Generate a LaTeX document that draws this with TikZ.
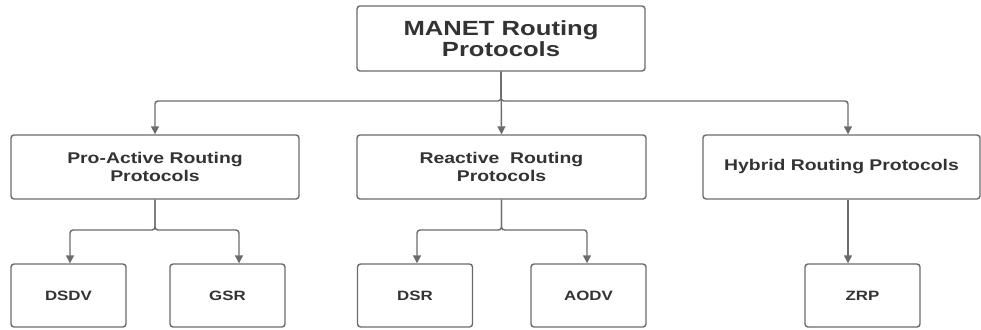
\documentclass[tikz,border=0pt]{standalone}
\usepackage{fontspec}
\setmainfont{Liberation Sans}[FakeStretch=1.25]
\usetikzlibrary{arrows.meta,calc}
\definecolor{linec}{HTML}{6B6B6B}
\definecolor{textc}{HTML}{333333}
\begin{document}
\begin{tikzpicture}[x=1pt,y=-1pt,
  box/.style={draw=linec,line width=1.4pt,rounded corners=3pt,fill=white,text=textc,align=center,inner sep=0pt,font=\bfseries},
  topbox/.style={box,minimum width=288pt,minimum height=65pt,font=\bfseries\fontsize{20.5}{21}\selectfont},
  midbox/.style={box,minimum height=64pt,font=\bfseries\fontsize{15.5}{18}\selectfont},
  leafbox/.style={box,minimum width=115pt,minimum height=63pt,font=\bfseries\fontsize{13.5}{16}\selectfont},
  conn/.style={draw=linec,line width=1.4pt,rounded corners=3pt,-{Triangle[width=8pt,length=8pt]}}]
\useasboundingbox (0,0) rectangle (981,329);
\node[topbox] (top) at (501,38.5) {MANET Routing\\Protocols};
\node[midbox,minimum width=288pt] (pro) at (155,167) {Pro-Active Routing\\Protocols};
\node[midbox,minimum width=289pt] (rea) at (501.5,167) {Reactive\ \ Routing\\Protocols};
\node[midbox,minimum width=277pt] (hyb) at (841.5,167) {Hybrid Routing Protocols};
\node[leafbox] (dsdv) at (68.5,295.5) {DSDV};
\node[leafbox] (gsr) at (227.5,295.5) {GSR};
\node[leafbox] (dsr) at (415,295.5) {DSR};
\node[leafbox] (aodv) at (588.5,295.5) {AODV};
\node[leafbox] (zrp) at (862.5,295.5) {ZRP};
\coordinate (bus) at (501,101);
\coordinate (hx) at (848,0);
\coordinate (gx) at (239,0);
\coordinate (dx) at (70,0);
\coordinate (rx) at (417,0);
\coordinate (ax) at (587,0);
\coordinate (split) at (0,230);
% top level
\draw[conn] (top.south) -- (bus) -| (pro.north);
\draw[conn] (top.south) -- (rea.north);
\draw[conn] (top.south) -- (bus) -| (hyb.north -| hx);
% pro-active
\draw[conn] (pro.south) -- (pro.south |- split) -| (dsdv.north -| dx);
\draw[conn] (pro.south) -- (pro.south |- split) -| (gsr.north -| gx);
% reactive
\draw[conn] (rea.south) -- (rea.south |- split) -| (dsr.north -| rx);
\draw[conn] (rea.south) -- (rea.south |- split) -| (aodv.north -| ax);
% hybrid
\draw[conn] (hyb.south -| hx) -- (zrp.north -| hx);
\end{tikzpicture}
\end{document}
